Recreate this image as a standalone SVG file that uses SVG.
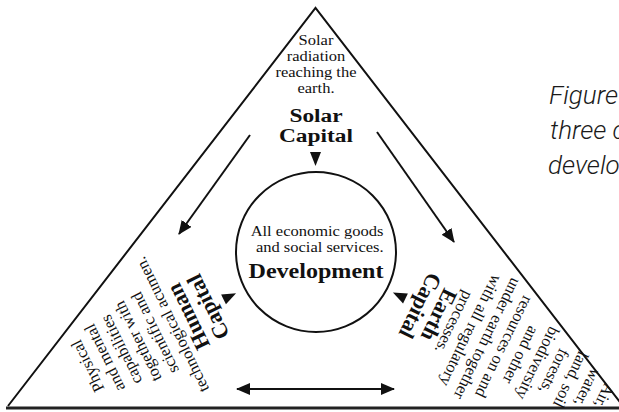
<svg xmlns="http://www.w3.org/2000/svg" width="619" height="412" viewBox="0 0 619 412">
<style>
.ln{stroke:#111;stroke-width:2;fill:none}
.base{stroke:#222;stroke-width:3}
.t{font-family:"Liberation Serif","Times New Roman",serif;fill:#111;text-anchor:middle}
.d{font-size:16.5px}
.h{font-size:22px;font-weight:bold}
.fig{font-family:Roboto,"Noto Sans",sans-serif;font-style:italic;font-weight:300;font-size:26px;fill:#1a1a1a}
.tri{fill:#111}
</style>
<defs>
<marker id="ah" viewBox="0 0 14 12" refX="13" refY="6" markerWidth="14" markerHeight="12" markerUnits="userSpaceOnUse" orient="auto-start-reverse">
<path d="M0,0 L14,6 L0,12 Z" fill="#111"/>
</marker>
</defs>
<rect width="619" height="412" fill="#fff"/>
<g id="frame">
<path class="ln" d="M8,406 L315.5,8 L623,406"/>
<line class="base" x1="6" y1="408" x2="619" y2="408"/>
</g>
<g id="connectors">
<line class="ln" x1="250" y1="135" x2="179" y2="234" marker-end="url(#ah)"/>
<line class="ln" x1="377" y1="132" x2="454" y2="242" marker-end="url(#ah)"/>
<line class="ln" x1="237" y1="389" x2="394" y2="389" marker-start="url(#ah)" marker-end="url(#ah)"/>
</g>
<g id="solar">
<g transform="translate(316,0) scale(1.1,1)">
<text class="t" font-size="15" x="0" y="45">Solar</text>
<text class="t" font-size="15" x="0" y="61">radiation</text>
<text class="t" font-size="15" x="0" y="77">reaching the</text>
<text class="t" font-size="15" x="0" y="93">earth.</text>
</g>
<g transform="translate(316,0) scale(1.2,1)">
<text class="t" font-size="19.5" font-weight="bold" x="0" y="122">Solar</text>
<text class="t" font-size="19.5" font-weight="bold" x="0" y="142">Capital</text>
</g>
<path class="tri" d="M310,152 L321,152 L315.5,166 Z"/>
</g>
<g id="development">
<circle class="ln" cx="316" cy="252" r="80"/>
<g transform="translate(317,0) scale(1.1,1)">
<text class="t" font-size="15" x="0" y="236">All economic goods</text>
<text class="t" font-size="15" x="2.5" y="252">and social services.</text>
</g>
<text class="t" font-size="22" font-weight="bold" x="316" y="278" textLength="135" lengthAdjust="spacingAndGlyphs">Development</text>
</g>
<g id="human" transform="translate(8,405) rotate(-116.1)">
<text class="t d" x="0" y="94">Physical</text>
<text class="t d" x="0" y="113">and mental</text>
<text class="t d" x="0" y="131.5">capabilities</text>
<text class="t d" x="0" y="150">together with</text>
<text class="t d" x="0" y="169">scientific and</text>
<text class="t d" x="0" y="188">technological acumen.</text>
<text class="t h" x="0" y="208">Human</text>
<text class="t h" x="0" y="230">Capital</text>
<path class="tri" d="M-5.5,240 L5.5,240 L0,254 Z"/>
</g>
<g id="earth" transform="translate(622.8,405) rotate(116.1)">
<text class="t d" x="0" y="26">Air,</text>
<text class="t d" x="0" y="44.6">water,</text>
<text class="t d" x="0" y="63.2">land, soil</text>
<text class="t d" x="0" y="81.8">forests,</text>
<text class="t d" x="0" y="100.4">biodiversity</text>
<text class="t d" x="0" y="119">and other</text>
<text class="t d" x="0" y="137.6">resources on and</text>
<text class="t d" x="0" y="156.2">under earth together</text>
<text class="t d" x="0" y="174.8">with all regulatory</text>
<text class="t d" x="0" y="193.4">processes.</text>
<text class="t h" x="0" y="212">Earth</text>
<text class="t h" x="0" y="233">Capital</text>
<path class="tri" d="M-5.5,242 L5.5,242 L0,256 Z"/>
</g>
<g id="caption">
<text class="fig" x="549" y="104">Figure</text>
<text class="fig" x="550" y="139">three c</text>
<text class="fig" x="548" y="174">develo</text>
</g>
</svg>
